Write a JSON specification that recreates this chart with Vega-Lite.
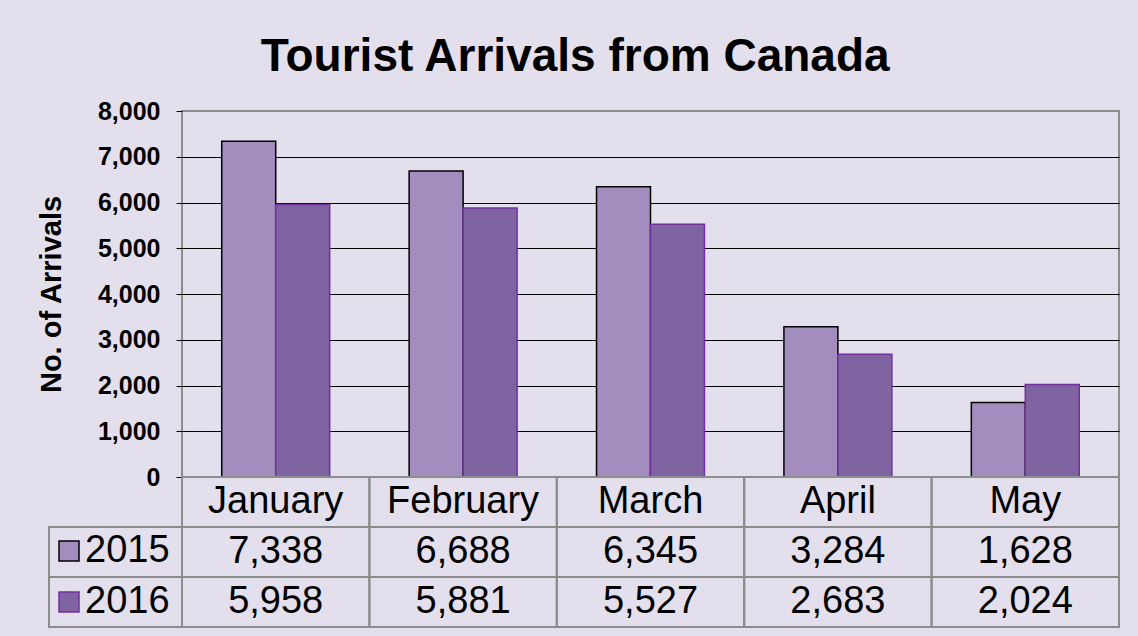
{
  "$schema": "https://vega.github.io/schema/vega-lite/v6.json",
  "background": "#E4DFEC",
  "padding": {"left": 36, "top": 34, "right": 21, "bottom": 8},
  "title": {"text": "Tourist Arrivals from Canada", "fontSize": 46, "font": "Liberation Sans", "fontWeight": "bold", "color": "black", "anchor": "middle", "offset": 17, "dx": -3},
  "datasets": {
    "arrivals": [
      {"month": "January", "year": "2015", "value": 7338},
      {"month": "January", "year": "2016", "value": 5958},
      {"month": "February", "year": "2015", "value": 6688},
      {"month": "February", "year": "2016", "value": 5881},
      {"month": "March", "year": "2015", "value": 6345},
      {"month": "March", "year": "2016", "value": 5527},
      {"month": "April", "year": "2015", "value": 3284},
      {"month": "April", "year": "2016", "value": 2683},
      {"month": "May", "year": "2015", "value": 1628},
      {"month": "May", "year": "2016", "value": 2024}
    ]
  },
  "columns": 2,
  "spacing": 0,
  "bounds": "flush",
  "concat": [
    {
      "width": 133,
      "height": 366,
      "data": {"values": []},
      "mark": "text",
      "encoding": {}
    },
    {
      "width": 937,
      "height": 366,
      "data": {"name": "arrivals"},
      "view": {"stroke": "#8C8C8C", "strokeWidth": 2},
      "mark": {"type": "bar", "strokeWidth": 1.5},
      "encoding": {
        "x": {"field": "month", "type": "nominal", "sort": ["January", "February", "March", "April", "May"], "scale": {"paddingInner": 0.424, "paddingOuter": 0.212}, "axis": null},
        "xOffset": {"field": "year", "type": "nominal", "sort": ["2015", "2016"]},
        "y": {
          "field": "value", "type": "quantitative",
          "scale": {"domain": [0, 8000]},
          "axis": {
            "title": "No. of Arrivals", "titleFontSize": 29, "titleFont": "Liberation Sans", "titleFontWeight": "bold", "titleColor": "black", "titlePadding": 31,
            "labelFontSize": 25, "labelFont": "Liberation Sans", "labelFontWeight": "bold", "labelColor": "black", "labelPadding": 16,
            "tickSize": 6, "tickColor": "black", "domain": false, "grid": true,
            "gridColor": {"condition": {"test": "datum.value === 0 || datum.value === 8000", "value": "#8C8C8C"}, "value": "black"},
            "gridWidth": 1, "values": [0, 1000, 2000, 3000, 4000, 5000, 6000, 7000, 8000], "format": ",.0f"
          }
        },
        "fill": {"field": "year", "type": "nominal", "scale": {"domain": ["2015", "2016"], "range": ["#A28DBE", "#8064A2"]},
          "legend": {"orient": "none", "legendX": 1, "legendY": 421, "title": null, "symbolType": "square", "symbolSize": 400, "labelFontSize": 38, "labelFont": "Liberation Sans", "labelColor": "black", "rowPadding": 13, "labelOffset": -3, "padding": 0,
            "encode": {"symbols": {"update": {"stroke": {"signal": "datum.value === '2015' ? '#000000' : '#7030A0'"}, "strokeWidth": {"value": 1.5}}}}}},
        "stroke": {"field": "year", "type": "nominal", "scale": {"domain": ["2015", "2016"], "range": ["#000000", "#7030A0"]}, "legend": null}
      }
    },
    {
      "width": 133,
      "height": 150,
      "data": {"name": "arrivals"},
      "transform": [{"filter": "datum.month === 'January'"}],
      "mark": {"type": "rect", "fill": "transparent", "stroke": "#8C8C8C", "strokeWidth": 2},
      "encoding": {
        "y": {"field": "year", "type": "nominal", "scale": {"domain": ["Month", "2015", "2016"], "paddingInner": 0, "paddingOuter": 0}, "axis": null}
      }
    },
    {
      "width": 937,
      "height": 150,
      "data": {"name": "arrivals"},
      "encoding": {
        "x": {"field": "month", "type": "nominal", "sort": ["January", "February", "March", "April", "May"], "scale": {"paddingInner": 0, "paddingOuter": 0}, "axis": null}
      },
      "layer": [
        {
          "mark": {"type": "rect", "fill": "transparent", "stroke": "#8C8C8C", "strokeWidth": 2},
          "encoding": {"y": {"field": "year", "type": "nominal", "scale": {"domain": ["Month", "2015", "2016"], "paddingInner": 0, "paddingOuter": 0}, "axis": null}}
        },
        {
          "transform": [{"filter": "datum.year === '2015'"}],
          "mark": {"type": "rect", "fill": "transparent", "stroke": "#8C8C8C", "strokeWidth": 2},
          "encoding": {"y": {"datum": "Month", "type": "nominal"}}
        },
        {
          "mark": {"type": "text", "fontSize": 38, "font": "Liberation Sans", "color": "black", "baseline": "middle"},
          "encoding": {"y": {"field": "year", "type": "nominal"}, "text": {"field": "value", "type": "quantitative", "format": ",.0f"}}
        },
        {
          "transform": [{"filter": "datum.year === '2015'"}],
          "mark": {"type": "text", "fontSize": 38, "font": "Liberation Sans", "color": "black", "baseline": "middle"},
          "encoding": {"y": {"datum": "Month", "type": "nominal"}, "text": {"field": "month", "type": "nominal"}}
        }
      ]
    }
  ],
  "config": {"font": "Liberation Sans", "view": {"stroke": null}}
}
